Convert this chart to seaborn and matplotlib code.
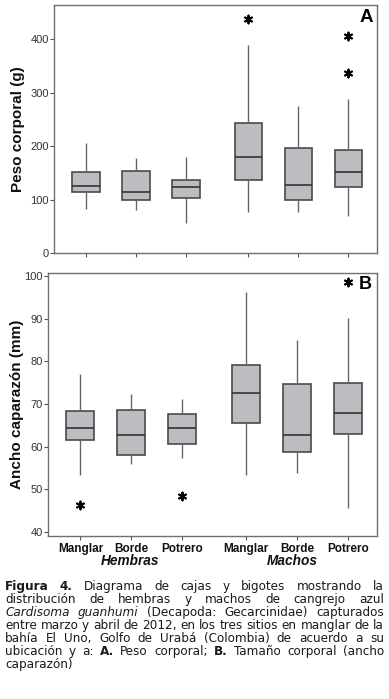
import numpy as np
import pandas as pd
import seaborn as sns
import matplotlib.pyplot as plt

# categories
sitios = ["Manglar", "Borde", "Potrero", "Manglar", "Borde", "Potrero"]
sexos = ["Hembras", "Machos"]

# five-number summaries (low whisker, Q1, median, Q3, high whisker)
peso_low = [83, 80, 56, 77, 76, 69]
peso_q1 = [114, 100, 102, 137, 100, 123]
peso_med = [126, 114, 124, 179, 128, 151]
peso_q3 = [152, 153, 137, 243, 197, 193]
peso_high = [205, 177, 179, 389, 275, 289]
peso_out_box = [3, 5, 5]
peso_out_val = [438, 406, 336]

ancho_low = [53.3, 56.0, 57.4, 53.5, 53.9, 45.7]
ancho_q1 = [61.7, 58.0, 60.6, 65.6, 58.7, 63.0]
ancho_med = [64.5, 62.7, 64.5, 72.7, 62.7, 67.9]
ancho_q3 = [68.4, 68.5, 67.7, 79.2, 74.6, 75.0]
ancho_high = [77.0, 72.4, 71.3, 96.2, 85.1, 90.1]
ancho_out_box = [0, 2, 5]
ancho_out_val = [46.3, 48.4, 98.6]

# layout: a gap between the female and male groups
positions = [0, 1, 2, 3.25, 4.25, 5.25]


def long_table(low, q1, med, q3, high):
    rows = []
    for i in range(len(low)):
        for v in (low[i], q1[i], med[i], q3[i], high[i]):
            rows.append({"pos": positions[i], "valor": v})
    return pd.DataFrame(rows)


def outlier_table(boxes, vals):
    return pd.DataFrame({"pos": [positions[b] for b in boxes], "valor": vals})


sns.set_theme(style="white")
plt.rcParams["font.family"] = ["Liberation Sans", "DejaVu Sans"]

fig = plt.figure(figsize=(3.89, 6.99), dpi=100)
W, H = 389.0, 699.0
axA = fig.add_axes([54.3 / W, 1 - 253 / H, 322.7 / W, 248 / H])
axB = fig.add_axes([48.3 / W, 1 - 536 / H, 328.7 / W, 263 / H])

box_kw = dict(x="pos", y="valor", native_scale=True, width=0.55, whis=(0, 100),
              color="#bcbdc1", linecolor="#4a4a4a", linewidth=1.2, showcaps=False,
              saturation=1, fliersize=0,
              medianprops={"color": "#333333", "linewidth": 1.2},
              whiskerprops={"color": "#666666", "linewidth": 1.0})

sns.boxplot(data=long_table(peso_low, peso_q1, peso_med, peso_q3, peso_high), ax=axA, **box_kw)
sns.scatterplot(data=outlier_table(peso_out_box, peso_out_val), x="pos", y="valor", ax=axA,
                marker=(6, 2, 0), s=32, color="black", linewidth=1.4, zorder=5)

sns.boxplot(data=long_table(ancho_low, ancho_q1, ancho_med, ancho_q3, ancho_high), ax=axB, **box_kw)
sns.scatterplot(data=outlier_table(ancho_out_box, ancho_out_val), x="pos", y="valor", ax=axB,
                marker=(6, 2, 0), s=32, color="black", linewidth=1.4, zorder=5)

for ax in (axA, axB):
    ax.set_xlim(-0.63, 5.82)
    ax.set_xticks(positions)
    ax.set_xlabel("")
    for sp in ax.spines.values():
        sp.set_color("#707070")
        sp.set_linewidth(1.0)
    ax.tick_params(axis="both", length=3, width=0.8, color="#555555", direction="out",
                   labelsize=8, labelcolor="#333333", pad=1, left=True, bottom=True)

axA.set_ylim(0, 464)
axA.set_yticks([0, 100, 200, 300, 400])
axA.set_xticklabels([])
axA.set_ylabel("Peso corporal (g)", fontsize=11, fontweight="bold", color="#111111")
axA.yaxis.set_label_coords(-0.092, 0.5)
axA.text(0.988, 0.985, "A", transform=axA.transAxes, ha="right", va="top",
         fontsize=13.5, fontweight="bold", color="black")

axB.set_ylim(39.1, 100.7)
axB.set_yticks([40, 50, 60, 70, 80, 90, 100])
axB.set_xticklabels(sitios, fontsize=8.5, fontweight="bold", color="#111111")
axB.tick_params(axis="x", pad=2)
axB.set_ylabel("Ancho caparazón (mm)", fontsize=11, fontweight="bold", color="#111111")
axB.yaxis.set_label_coords(-0.074, 0.5)
axB.text(0.985, 0.99, "B", transform=axB.transAxes, ha="right", va="top",
         fontsize=13, fontweight="bold", color="black")

# group labels under the site names
fig.text(130 / W, 1 - 561 / H, sexos[0], ha="center", va="center",
         fontsize=9.8, fontweight="bold", style="italic", color="#111111")
fig.text(292 / W, 1 - 561 / H, sexos[1], ha="center", va="center",
         fontsize=9.8, fontweight="bold", style="italic", color="#111111")

# caption, justified word by word
R, B_, I = "normal", "bold", "italic"
caption = [
    [("Figura", B_), ("4.", B_), ("Diagrama", R), ("de", R), ("cajas", R), ("y", R),
     ("bigotes", R), ("mostrando", R), ("la", R)],
    [(w, R) for w in "distribución de hembras y machos de cangrejo azul".split()],
    [("Cardisoma", I), ("guanhumi", I), ("(Decapoda:", R), ("Gecarcinidae)", R), ("capturados", R)],
    [(w, R) for w in "entre marzo y abril de 2012, en los tres sitios en manglar de la".split()],
    [(w, R) for w in "bahía El Uno, Golfo de Urabá (Colombia) de acuerdo a su".split()],
    [("ubicación", R), ("y", R), ("a:", R), ("A.", B_), ("Peso", R), ("corporal;", R),
     ("B.", B_), ("Tamaño", R), ("corporal", R), ("(ancho", R)],
    [("caparazón)", R)],
]
baselines = [590, 603, 616, 629, 642, 655, 668]
left_px, right_px = 5.0, 384.0
cap_font = dict(family="DejaVu Sans", stretch="condensed", size=9.6, color="#1a1a1a")

renderer = fig.canvas.get_renderer()
for k, line in enumerate(caption):
    texts = []
    for word, st in line:
        kw = dict(cap_font)
        if st == B_:
            kw["weight"] = "bold"
        elif st == I:
            kw["style"] = "italic"
        t = fig.text(0, 1 - baselines[k] / H, word, ha="left", va="baseline", **kw)
        texts.append(t)
    widths = [t.get_window_extent(renderer).width for t in texts]
    if k == len(caption) - 1 or len(texts) == 1:
        gap = 4.0
    else:
        gap = (right_px - left_px - sum(widths)) / (len(texts) - 1)
    x = left_px
    for t, w in zip(texts, widths):
        t.set_x(x / W)
        x += w + gap

fig.savefig("out.png", dpi=100)
